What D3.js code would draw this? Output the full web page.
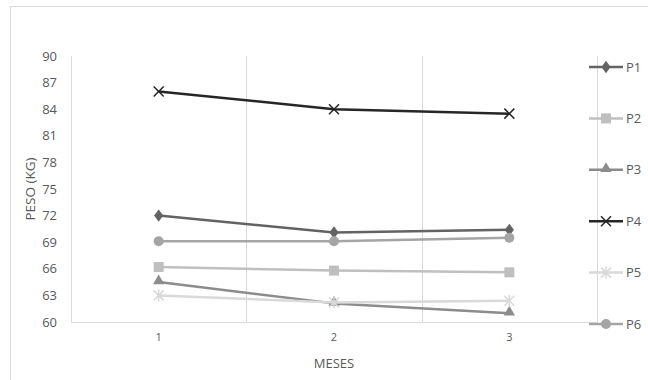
<!DOCTYPE html>
<html>
<head>
<meta charset="utf-8">
<script src="https://cdn.jsdelivr.net/npm/d3@7/dist/d3.min.js"></script>
<style>
  html, body { margin: 0; padding: 0; background: #fff; }
  svg { display: block; }
</style>
</head>
<body>
<svg id="chart" width="648" height="380"></svg>
<script>
// Weight (kg) of six people over three months
const months = ["1", "2", "3"];
const yTicks = [60, 63, 66, 69, 72, 75, 78, 81, 84, 87, 90];
const seriesNames = ["P1", "P2", "P3", "P4", "P5", "P6"];
const p1 = [72.0, 70.1, 70.4];
const p2 = [66.2, 65.8, 65.6];
const p3 = [64.5, 62.1, 61.0];
const p4 = [86.0, 84.0, 83.5];
const p5 = [63.0, 62.2, 62.4];
const p6 = [69.1, 69.1, 69.5];
const seriesValues = [p1, p2, p3, p4, p5, p6];
const seriesColors = ["#636363", "#bfbfbf", "#8c8c8c", "#262626", "#d9d9d9", "#a5a5a5"];
const seriesMarkers = ["diamond", "square", "triangle", "x", "star", "circle"];

const FONT = "'Open Sans', 'Liberation Sans', sans-serif";
const TEXT = "#595959";

const svg = d3.select("#chart").attr("font-family", FONT);
const plotLeft = 71, plotRight = 597, plotTop = 56, plotBottom = 322;

// chart frame
svg.append("rect")
  .attr("x", 10.5).attr("y", 6.5)
  .attr("width", 700).attr("height", 400)
  .attr("fill", "none").attr("stroke", "#d9d9d9").attr("stroke-width", 1);

const x = d3.scaleBand().domain(months).range([plotLeft, plotRight]);
const y = d3.scaleLinear().domain([60, 90]).range([plotBottom, plotTop]);

// vertical gridlines at the category boundaries
const bounds = months.map(m => x(m)).concat([x(months[months.length - 1]) + x.bandwidth()]);
svg.append("g").selectAll("line").data(bounds).join("line")
  .attr("x1", d => Math.round(d) + 0.5).attr("x2", d => Math.round(d) + 0.5)
  .attr("y1", plotTop).attr("y2", plotBottom)
  .attr("stroke", "#d9d9d9").attr("stroke-width", 1);

// bottom axis line
svg.append("line")
  .attr("x1", plotLeft).attr("x2", plotRight + 1)
  .attr("y1", plotBottom + 0.5).attr("y2", plotBottom + 0.5)
  .attr("stroke", "#d9d9d9").attr("stroke-width", 1);

// y axis
const yAxis = d3.axisLeft(y).tickValues(yTicks).tickSize(0).tickPadding(14);
const gy = svg.append("g").attr("transform", `translate(${plotLeft},0)`).call(yAxis)
  .attr("font-family", FONT).attr("font-size", 13);
gy.select(".domain").remove();
gy.selectAll("text").attr("fill", TEXT);

// x axis
const xAxis = d3.axisBottom(x).tickSize(0).tickPadding(11);
const gx = svg.append("g").attr("transform", `translate(0,${plotBottom})`).call(xAxis)
  .attr("font-family", FONT).attr("font-size", 11);
gx.select(".domain").remove();
gx.selectAll("text").attr("fill", TEXT);

// axis titles
svg.append("text")
  .attr("x", (plotLeft + plotRight) / 2).attr("y", 368)
  .attr("text-anchor", "middle").attr("fill", TEXT).attr("font-size", 13)
  .text("MESES");
svg.append("text")
  .attr("transform", `translate(35,${(plotTop + plotBottom) / 2}) rotate(-90)`)
  .attr("text-anchor", "middle").attr("fill", TEXT).attr("font-size", 13.5)
  .text("PESO (KG)");

function drawMarker(g, type, color, cx, cy) {
  if (type === "diamond") {
    g.append("path").attr("d", d3.symbol(d3.symbolDiamond, 60)())
      .attr("transform", `translate(${cx},${cy}) scale(1.1,0.85)`).attr("fill", color);
  } else if (type === "square") {
    g.append("rect").attr("x", cx - 5).attr("y", cy - 5).attr("width", 10).attr("height", 10).attr("fill", color);
  } else if (type === "triangle") {
    g.append("path").attr("d", d3.symbol(d3.symbolTriangle, 55)())
      .attr("transform", `translate(${cx},${cy - 1})`).attr("fill", color);
  } else if (type === "x") {
    g.append("path").attr("d", `M${cx - 5},${cy - 5}L${cx + 5},${cy + 5}M${cx - 5},${cy + 5}L${cx + 5},${cy - 5}`)
      .attr("stroke", color).attr("stroke-width", 1.5).attr("fill", "none");
  } else if (type === "star") {
    g.append("path").attr("d", `M${cx - 5},${cy - 5}L${cx + 5},${cy + 5}M${cx - 5},${cy + 5}L${cx + 5},${cy - 5}M${cx},${cy - 6}L${cx},${cy + 6}`)
      .attr("stroke", color).attr("stroke-width", 1.5).attr("fill", "none");
  } else if (type === "circle") {
    g.append("circle").attr("cx", cx).attr("cy", cy).attr("r", 5).attr("fill", color);
  }
}

const cx = m => x(m) + x.bandwidth() / 2;
const line = d3.line().x((d, i) => cx(months[i])).y(d => y(d));

// series, drawn in order so later ones sit on top
seriesValues.forEach((vals, s) => {
  const g = svg.append("g");
  g.append("path").datum(vals).attr("d", line)
    .attr("fill", "none").attr("stroke", seriesColors[s]).attr("stroke-width", 2.5)
    .attr("stroke-linejoin", "round");
  vals.forEach((v, i) => drawMarker(g, seriesMarkers[s], seriesColors[s], cx(months[i]), y(v)));
});

// legend
const legendY = d3.scalePoint().domain(seriesNames).range([67, 324]);
seriesNames.forEach((name, s) => {
  const g = svg.append("g");
  const ly = legendY(name);
  g.append("line").attr("x1", 589).attr("x2", 623).attr("y1", ly).attr("y2", ly)
    .attr("stroke", seriesColors[s]).attr("stroke-width", 2.5);
  drawMarker(g, seriesMarkers[s], seriesColors[s], 606, ly);
  g.append("text").attr("x", 626).attr("y", ly).attr("dy", "0.35em")
    .attr("fill", TEXT).attr("font-size", 13).text(name);
});
</script>
</body>
</html>
